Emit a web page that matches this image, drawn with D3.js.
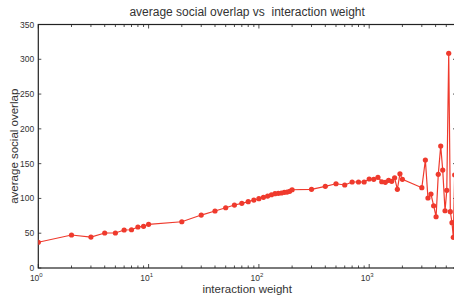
<!DOCTYPE html>
<html>
<head>
<meta charset="utf-8">
<script src="https://cdn.jsdelivr.net/npm/d3@7"></script>
<style>
  body { margin: 0; background: #fff; }
  text { font-family: "Liberation Sans", Arial, sans-serif; fill: #333; white-space: pre; }
</style>
</head>
<body>
<svg id="chart" width="454" height="297"></svg>
<script>
// interaction weight (x) and average social overlap (y)
const weights = [1, 2, 3, 4, 5, 6, 7, 8, 9, 10,
  20, 30, 40, 50, 60, 70, 80, 90, 100, 110, 120, 130, 140, 150, 160, 170, 180, 190, 200,
  300, 400, 500, 600, 700, 800, 900, 1000, 1100, 1200, 1300, 1400, 1500, 1600, 1700, 1800, 1900, 2000,
  3000, 3230, 3410, 3630, 3840, 4040, 4230, 4450, 4640, 4870, 5050, 5260, 5440, 5630, 5790, 5950];
const overlap = [37, 47.4, 44.5, 50.3, 50.3, 54.6, 55, 58.9, 59.9, 62.8,
  66.5, 76.1, 81.9, 86.6, 90.5, 93, 95.3, 97.7, 99.6, 101.6, 103.4, 105.3, 106.8, 107.3, 107.8, 108.8, 109.2, 110.2, 112.5,
  113.1, 117.4, 121.1, 119.3, 123.6, 123.6, 123.6, 127.9, 127.4, 130.3, 124, 123.1, 126, 124.6, 129.7, 113.1, 135.5, 127.4,
  115.4, 155.2, 100.6, 106.3, 89.5, 73.7, 134.6, 175.3, 140.8, 82.3, 111.6, 308.5, 80.9, 65.1, 44.1, 133.6];
const yTicks = [0, 50, 100, 150, 200, 250, 300, 350];
const xDecades = [1, 10, 100, 1000];

const svg = d3.select('#chart');
const m = { left: 38.3, right: 456, top: 24.5, bottom: 268 };

const x = d3.scaleLog().domain([1, Math.pow(10, (m.right - m.left) / 110.3)]).range([m.left, m.right]);
const y = d3.scaleLinear().domain([0, 350]).range([m.bottom, m.top]);

svg.append('defs').append('clipPath').attr('id', 'plot-clip')
  .append('rect').attr('x', m.left).attr('y', m.top - 5)
  .attr('width', m.right - m.left).attr('height', m.bottom - m.top + 10);

// minor + major x ticks, inward on bottom and top
const minor = [];
for (let d = 1; d <= 1000; d *= 10) {
  for (let k = 1; k <= 9; k++) {
    if (x(d * k) <= m.right) minor.push(d * k);
  }
}
const tickG = svg.append('g').attr('stroke', '#222').attr('stroke-width', 0.8);
minor.forEach(v => {
  const len = xDecades.includes(v) ? 4 : 2.5;
  tickG.append('line').attr('x1', x(v)).attr('x2', x(v)).attr('y1', m.bottom).attr('y2', m.bottom - len);
  tickG.append('line').attr('x1', x(v)).attr('x2', x(v)).attr('y1', m.top).attr('y2', m.top + len);
});
yTicks.forEach(v => {
  tickG.append('line').attr('x1', m.left).attr('x2', m.left + 3).attr('y1', y(v)).attr('y2', y(v));
  tickG.append('line').attr('x1', m.right).attr('x2', m.right - 3).attr('y1', y(v)).attr('y2', y(v));
});

// box
svg.append('rect')
  .attr('x', m.left).attr('y', m.top).attr('width', m.right - m.left).attr('height', m.bottom - m.top)
  .attr('fill', 'none').attr('stroke', '#222').attr('stroke-width', 1.2);

// y tick labels
svg.append('g').selectAll('text').data(yTicks).join('text')
  .attr('x', m.left - 4).attr('y', d => y(d) + 3)
  .attr('text-anchor', 'end').attr('font-size', 8.5)
  .text(d => d);

// x tick labels 10^n
const xl = svg.append('g').selectAll('text').data(xDecades).join('text')
  .attr('x', d => x(d) - 2).attr('y', 281)
  .attr('text-anchor', 'middle').attr('font-size', 8.5);
xl.append('tspan').text('10');
xl.append('tspan').attr('dy', -4).attr('font-size', 6).text(d => Math.round(Math.log10(d)));

// title and axis labels
svg.append('text').attr('x', (m.left + m.right) / 2).attr('y', 16)
  .attr('text-anchor', 'middle').attr('font-size', 12)
  .text('average social overlap vs  interaction weight');
svg.append('text').attr('x', (m.left + m.right) / 2).attr('y', 293)
  .attr('text-anchor', 'middle').attr('font-size', 11.5)
  .text('interaction weight');
svg.append('text')
  .attr('transform', `translate(18,${(m.top + m.bottom) / 2}) rotate(-90)`)
  .attr('text-anchor', 'middle').attr('font-size', 11.5)
  .text('average social overlap');

// data line and markers
const pts = weights.map((w, i) => [w, overlap[i]]);
const plot = svg.append('g').attr('clip-path', 'url(#plot-clip)');
plot.append('path')
  .attr('d', d3.line().x(d => x(d[0])).y(d => y(d[1]))(pts))
  .attr('fill', 'none').attr('stroke', '#ef3a2d').attr('stroke-width', 1.2);
plot.selectAll('circle').data(pts).join('circle')
  .attr('cx', d => x(d[0])).attr('cy', d => y(d[1])).attr('r', 2.6)
  .attr('fill', '#ef3a2d');
</script>
</body>
</html>
